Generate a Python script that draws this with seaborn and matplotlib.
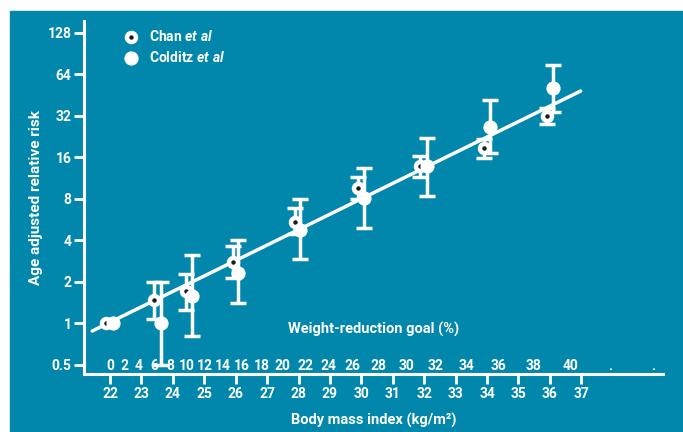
import numpy as np
import pandas as pd
import matplotlib
matplotlib.use("Agg")
import matplotlib.pyplot as plt
import seaborn as sns
from matplotlib.patches import Rectangle

# values
chan_bmi = [21.87, 23.40, 24.41, 25.92, 27.89, 29.90, 31.87, 33.89, 35.91]
chan_rr = [1.0, 1.47, 1.71, 2.78, 5.43, 9.49, 13.8, 18.5, 31.7]
chan_lo = [np.nan, 1.07, 1.24, 2.13, 4.4, 8.0, 11.5, 15.7, 27.8]
chan_hi = [np.nan, 1.99, 2.27, 3.62, 6.79, 11.5, 16.3, 21.6, 36.1]

colditz_bmi = [22.10, 23.62, 24.60, 26.07, 28.05, 30.09, 32.10, 34.10, 36.10]
colditz_rr = [1.0, 1.0, 1.58, 2.29, 4.73, 8.03, 13.8, 26.6, 50.6]
colditz_lo = [np.nan, 0.5, 0.80, 1.40, 2.9, 4.91, 8.37, 17.0, 34.2]
colditz_hi = [np.nan, 1.99, 3.11, 4.0, 7.9, 13.4, 22.0, 41.4, 74.5]

fit_bmi = [21.43, 36.98]
fit_rr = [0.875, 48.2]

bmi_ticks = list(range(22, 38))
rr_ticks = [0.5, 1, 2, 4, 8, 16, 32, 64, 128]
rr_labels = ["0.5", "1", "2", "4", "8", "16", "32", "64", "128"]
goal_ticks = list(range(0, 46, 2))
goal_labels = [str(g) if g <= 40 else "." for g in goal_ticks]
ideal_bmi = 22.0

teal = "#0087ab"

sns.set_style("ticks", rc={"axes.facecolor": teal, "axes.edgecolor": "white"})
plt.rcParams["font.family"] = ["Roboto", "DejaVu Sans"]
plt.rcParams["mathtext.fontset"] = "custom"
plt.rcParams["mathtext.it"] = "Roboto:italic:bold"
plt.rcParams["mathtext.rm"] = "Roboto:bold"

chan = pd.DataFrame({"bmi": chan_bmi, "rr": chan_rr, "lo": chan_lo, "hi": chan_hi})
colditz = pd.DataFrame({"bmi": colditz_bmi, "rr": colditz_rr, "lo": colditz_lo, "hi": colditz_hi})
fit = pd.DataFrame({"bmi": fit_bmi, "rr": fit_rr})

fig = plt.figure(figsize=(6.83, 4.32), dpi=100, facecolor="white")
fig.patches.append(Rectangle((10 / 683, 0), 673 / 683, 421 / 432,
                             transform=fig.transFigure, color=teal, zorder=-1))
ax = fig.add_axes([84 / 683, 1 - 374 / 432, 579 / 683, 353.3 / 432])

sns.lineplot(data=fit, x="bmi", y="rr", color="white", lw=2.5, ax=ax, zorder=2)

for d in (chan, colditz):
    e = d.dropna()
    ax.errorbar(e["bmi"], e["rr"], yerr=[e["rr"] - e["lo"], e["hi"] - e["rr"]],
                fmt="none", ecolor="white", elinewidth=2.5, capsize=5.5,
                capthick=2.5, zorder=3)

sns.scatterplot(data=chan, x="bmi", y="rr", s=42, color="#1b1b1b",
                edgecolor="white", linewidth=3.2, label=r"Chan $\mathit{et\ al}$",
                ax=ax, zorder=4)
sns.scatterplot(data=colditz, x="bmi", y="rr", s=105, color="white",
                edgecolor="white", linewidth=0, label=r"Colditz $\mathit{et\ al}$",
                ax=ax, zorder=5)

ax.set_yscale("log", base=2)
ax.set_ylim(0.427, 156)
ax.set_xlim(21.17, 39.6)
ax.set_yticks(rr_ticks, labels=rr_labels)
ax.minorticks_off()
ax.set_xticks(bmi_ticks)

for s in ("top", "right"):
    ax.spines[s].set_visible(False)
for s in ("left", "bottom"):
    ax.spines[s].set_color("white")
    ax.spines[s].set_linewidth(2.2)

ax.tick_params(colors="white", width=2, length=7, labelsize=10, pad=2)
for lab in ax.get_xticklabels() + ax.get_yticklabels():
    lab.set_fontweight("bold")

ax.set_xlabel("Body mass index (kg/m²)", color="white", fontweight="bold",
              fontsize=10.5, labelpad=9)
ax.set_ylabel("Age adjusted relative risk", color="white", fontweight="bold",
              fontsize=11, labelpad=3)

# weight-reduction goal scale drawn above the BMI axis line
sec = ax.secondary_xaxis(0.0, functions=(lambda x: (1 - ideal_bmi / x) * 100,
                                         lambda g: ideal_bmi / (1 - g / 100)))
sec.set_alignment("top")
sec.set_xticks(goal_ticks, labels=goal_labels)
sec.tick_params(colors="white", length=0, labelsize=10, pad=1)
for sp in sec.spines.values():
    sp.set_visible(False)
for lab in sec.get_xticklabels():
    lab.set_fontweight("bold")

ax.text(0.5, 0.125, "Weight-reduction goal (%)", transform=ax.transAxes,
        ha="center", va="center", color="white", fontweight="bold", fontsize=10.5)

leg = ax.legend(loc="upper left", bbox_to_anchor=(0.047, 0.993), frameon=False,
                handletextpad=0.3, labelspacing=0.45, borderaxespad=0,
                prop={"weight": "bold", "size": 10})
for t in leg.get_texts():
    t.set_color("white")

fig.savefig("out.png", dpi=100, facecolor="white")
